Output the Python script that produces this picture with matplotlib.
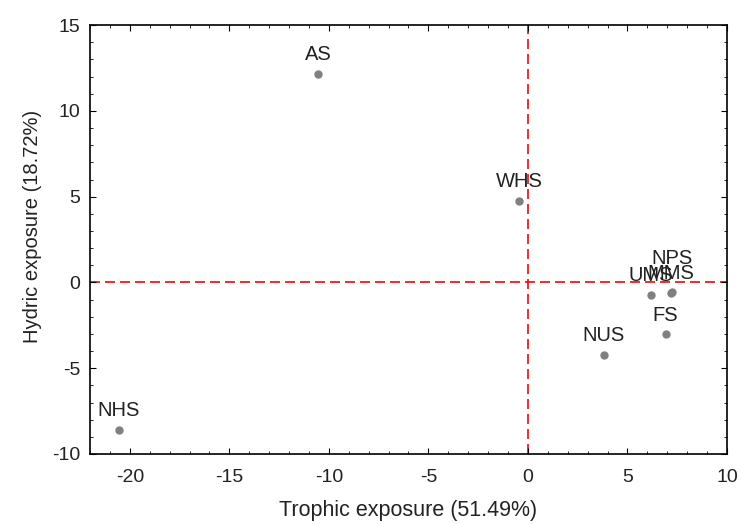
import matplotlib
matplotlib.use('Agg')
import matplotlib.pyplot as plt
from matplotlib.ticker import MultipleLocator

plt.rcParams['font.family'] = ['Liberation Sans', 'DejaVu Sans']
plt.rcParams['axes.unicode_minus'] = False

sites = ['AS', 'WHS', 'NHS', 'NUS', 'FS', 'UMS', 'MMS', 'NPS']
trophic = [-10.55, -0.45, -20.55, 3.8, 6.92, 6.18, 7.2, 7.25]
hydric = [12.15, 4.74, -8.6, -4.23, -3.02, -0.72, -0.62, -0.55]
# NPS label sits higher than the rest in the original
label_offset = [7, 7, 7, 7, 7, 7, 7, 17]

fig = plt.figure(figsize=(7.41, 5.24), dpi=100)
ax = fig.add_axes([0.1215, 0.1336, 0.8595, 0.8184])

ax.axhline(0, color='red', linestyle=(0, (6, 3)), linewidth=1.2, zorder=1)
ax.axvline(0, color='red', linestyle=(0, (6, 3)), linewidth=1.2, zorder=1)

ax.plot(trophic, hydric, 'o', color='#808080', markersize=5, zorder=2)
for name, x, y, off in zip(sites, trophic, hydric, label_offset):
    ax.annotate(name, (x, y), xytext=(0, off), textcoords='offset points',
                ha='center', va='bottom', fontsize=14.5, color='#222222', zorder=3)

ax.set_xlim(-22, 10)
ax.set_ylim(-10, 15)
ax.xaxis.set_major_locator(MultipleLocator(5))
ax.yaxis.set_major_locator(MultipleLocator(5))
ax.xaxis.set_minor_locator(MultipleLocator(1))
ax.yaxis.set_minor_locator(MultipleLocator(1))
ax.tick_params(which='both', direction='in', top=True, right=True, labelsize=14,
               labelcolor='#222222')
ax.tick_params(axis='x', which='major', pad=11)
ax.tick_params(axis='y', which='major', pad=7)
ax.tick_params(which='major', length=4)
ax.tick_params(which='minor', length=2.5)
for s in ax.spines.values():
    s.set_linewidth(1.2)

ax.set_xlabel('Trophic exposure (51.49%)', fontsize=15.5, color='#222222', labelpad=10)
ax.set_ylabel('Hydric exposure (18.72%)', fontsize=14.5, color='#222222')
ax.yaxis.set_label_coords(-0.075, 0.53)

fig.savefig('out.png', dpi=100)
